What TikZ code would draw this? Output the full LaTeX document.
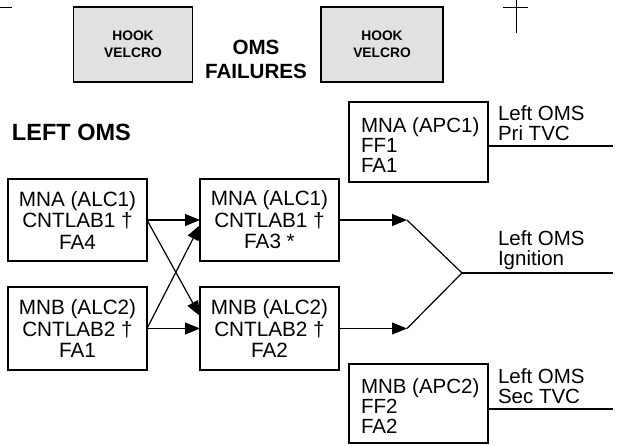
\documentclass[tikz,border=0pt]{standalone}
\usepackage{fontspec}
\setmainfont{Liberation Sans}
\usetikzlibrary{arrows.meta}
\definecolor{hookgray}{HTML}{E0E1E3}
\tikzset{
  every node/.style={inner sep=0pt, outer sep=0pt},
  box/.style={draw, line width=1.3pt, minimum width=139pt},
  hookbox/.style={draw, line width=1.2pt, fill=hookgray, minimum width=119pt, minimum height=75pt,
    align=center, font=\bfseries\fontsize{13.8}{17}\selectfont},
  btxt/.style={align=center, font=\fontsize{20.7}{21.5}\selectfont},
  ltxt/.style={align=left, anchor=west, font=\fontsize{20.5}{20}\selectfont},
  conn/.style={line width=1.2pt},
  arr/.style={line width=1.2pt, -{Triangle[length=15pt,width=12pt]}},
  crop/.style={line width=0.8pt}
}
\begin{document}
\begin{tikzpicture}[x=1pt,y=-1pt]
\useasboundingbox (0,0) rectangle (621,445);
% crop marks
\coordinate (c1) at (0,7); \coordinate (c2) at (12,7);
\draw[crop] (c1) -- (c2);
\coordinate (c3) at (516,0); \coordinate (c4) at (516,33);
\coordinate (c5) at (503,7); \coordinate (c6) at (528,7);
\draw[crop] (c3) -- (c4); \draw[crop] (c5) -- (c6);
% header
\node[hookbox] (hookL) at (133,44.5) {HOOK\\VELCRO};
\node[hookbox, minimum width=122pt] (hookR) at (382,44.5) {HOOK\\VELCRO};
\node[align=center, font=\bfseries\fontsize{20.6}{24}\selectfont] (title) at (256,59) {OMS\\FAILURES};
\node[anchor=west, font=\bfseries\fontsize{23.5}{24}\selectfont] (leftoms) at (12,132) {LEFT OMS};
% boxes
\node[box, minimum height=82pt, btxt] (lA) at (77.5,220) {MNA (ALC1)\\CNTLAB1 †\\FA4};
\node[box, minimum height=83pt, btxt] (lB) at (77.5,328.5) {MNB (ALC2)\\CNTLAB2 †\\FA1};
\node[box, minimum height=82pt, btxt] (mA) at (269.5,220) {MNA (ALC1)\\CNTLAB1 †\\FA3 *};
\node[box, minimum height=83pt, btxt] (mB) at (269.5,328.5) {MNB (ALC2)\\CNTLAB2 †\\FA2};
% arrows left to middle
\draw[arr] (lA.east) -- (mA.west);
\draw[arr] (lB.east) -- (mB.west);
\draw[arr] (lA.east) -- ([yshift=12.5pt]mB.west);
\draw[arr] (lB.east) -- ([yshift=-5pt]mA.west);
% ignition
\coordinate (tA) at (407,220);
\coordinate (tB) at (407,328.5);
\coordinate (join) at (462,273);
\coordinate (ignend) at (613,273);
\draw[arr] (mA.east) -- (tA);
\draw[arr] (mB.east) -- (tB);
\draw[conn] (tA) -- (join) -- (tB);
\draw[conn] (join) -- (ignend);
\node[ltxt] (ignlbl) at (498,250.5) {Left OMS\\Ignition};
% Pri TVC
\node[box, minimum height=80pt] (pri) at (418.5,142) {};
\node[ltxt] (pritxt) at (361,145) {MNA (APC1)\\FF1\\FA1};
\coordinate (priend) at (613,146);
\draw[conn] (pri.east |- priend) -- (priend);
\node[ltxt] (prilbl) at (498,123) {Left OMS\\Pri TVC};
% Sec TVC
\node[box, minimum height=79pt] (sec) at (418.5,403.5) {};
\node[ltxt] (sectxt) at (361,406) {MNB (APC2)\\FF2\\FA2};
\coordinate (secend) at (613,409);
\draw[conn] (sec.east |- secend) -- (secend);
\node[ltxt] (seclbl) at (498,386) {Left OMS\\Sec TVC};
\end{tikzpicture}
\end{document}
